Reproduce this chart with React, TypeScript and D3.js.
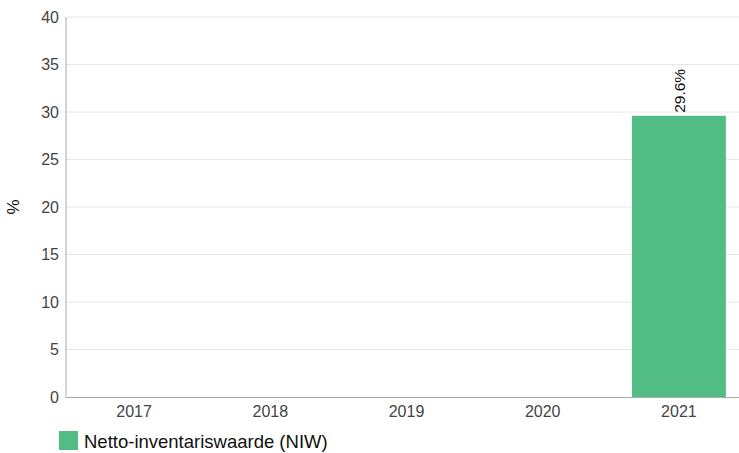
import React from "react";
import * as d3 from "d3";

const categories = ["2017", "2018", "2019", "2020", "2021"];
const values: (number | null)[] = [null, null, null, null, 29.6];
const yTicks = [0, 5, 10, 15, 20, 25, 30, 35, 40];
const seriesName = "Netto-inventariswaarde (NIW)";
const yLabel = "%";

export default function App() {
  const W = 739, H = 453;
  const left = 66, right = 739, top = 17, bottom = 397;
  const x = d3.scaleBand<string>().domain(categories).range([left, 747]).paddingInner(0.31).paddingOuter(0.155);
  const y = d3.scaleLinear().domain([0, 40]).range([bottom, top]);
  const font = "Arial, 'Liberation Sans', sans-serif";
  return (
    <svg width={W} height={H} style={{ position: "absolute", left: 0, top: 0 }} fontFamily={font}>
      {yTicks.map((t) => (
        <g key={t}>
          {t > 0 && <line x1={left} x2={right} y1={y(t)} y2={y(t)} stroke="#e6e6e6" strokeWidth={1} />}
          <text x={left - 7} y={y(t)} dy="0.35em" textAnchor="end" fontSize={16} fill="#444">{t}</text>
        </g>
      ))}
      {categories.map((c, i) => {
        const v = values[i];
        const cx = (x(c) as number) + x.bandwidth() / 2;
        return (
          <g key={c}>
            {v != null && (
              <>
                <rect x={x(c)} y={y(v)} width={x.bandwidth()} height={bottom - y(v)} fill="#52bc85" />
                <text transform={`translate(${cx + 6},${y(v) - 3}) rotate(-90)`} fontSize={15.5} fill="#111">{v.toFixed(1)}%</text>
              </>
            )}
            <text x={cx} y={bottom + 20} textAnchor="middle" fontSize={16} fill="#444">{c}</text>
          </g>
        );
      })}
      <line x1={left} x2={left} y1={top} y2={bottom} stroke="#aaa" strokeWidth={1} />
      <line x1={left} x2={right} y1={bottom + 0.5} y2={bottom + 0.5} stroke="#aaa" strokeWidth={1} />
      <text transform={`translate(19,${(top + bottom) / 2}) rotate(-90)`} textAnchor="middle" fontSize={17} fill="#111">{yLabel}</text>
      <rect x={59} y={431} width={19} height={19} fill="#52bc85" />
      <text x={84} y={448} fontSize={18.5} fill="#111">{seriesName}</text>
    </svg>
  );
}
